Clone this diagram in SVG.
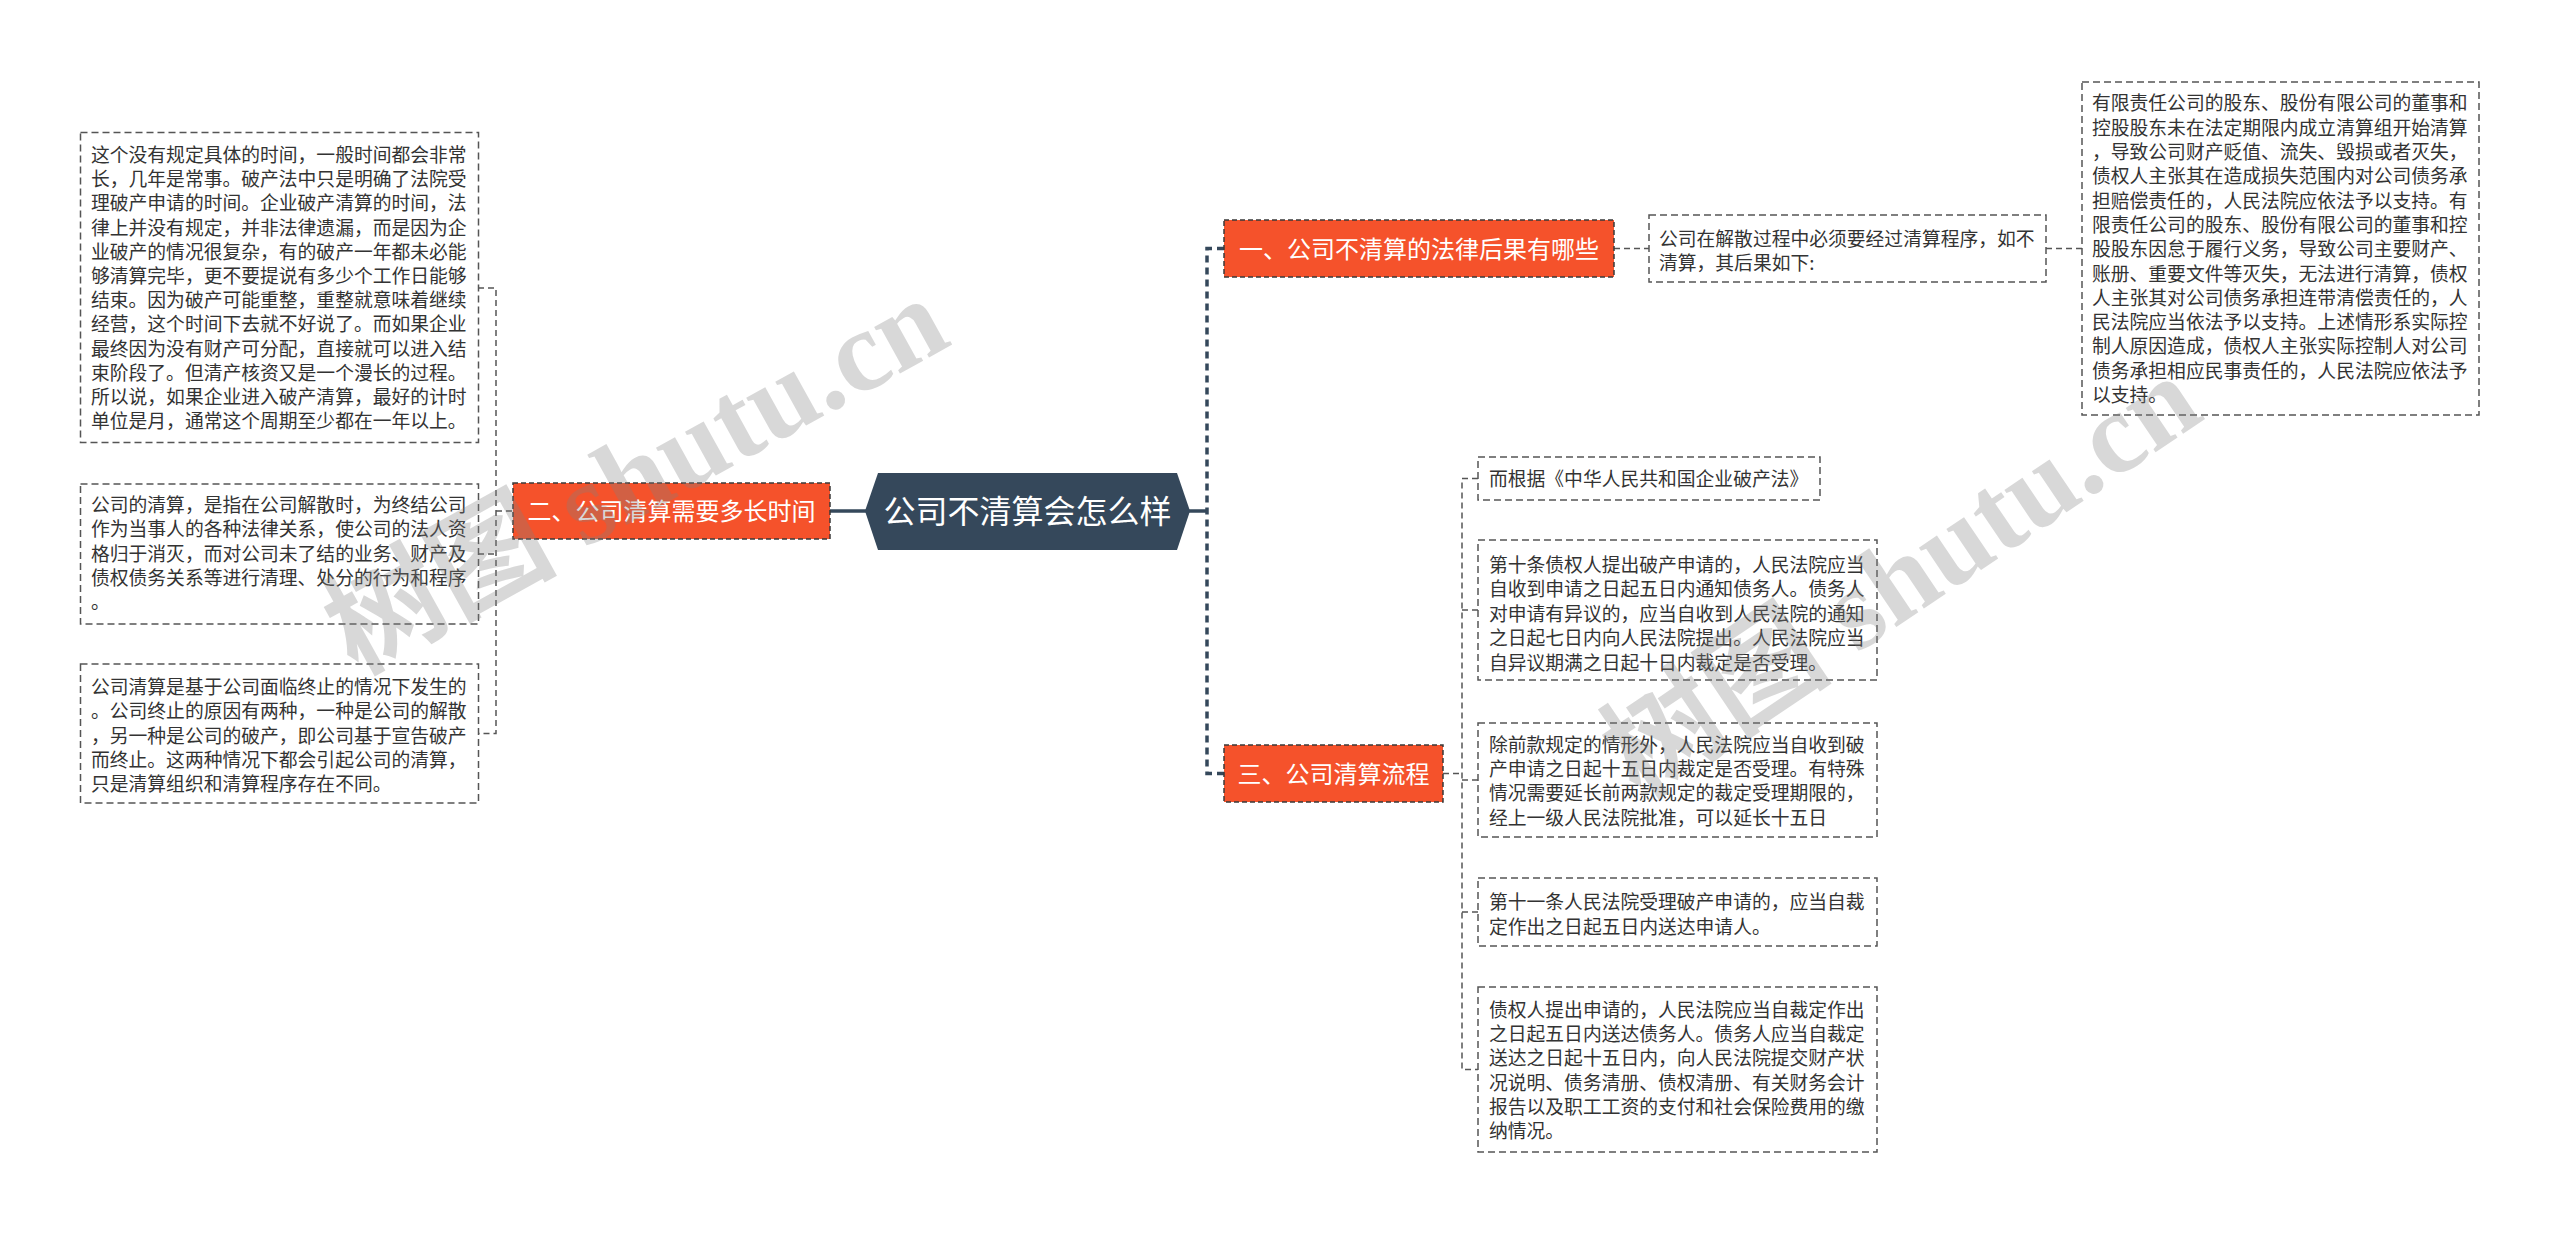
<svg xmlns="http://www.w3.org/2000/svg" width="2560" height="1233" viewBox="0 0 2560 1233">
<style>
.box{fill:#fff;stroke:#555;stroke-width:1.5;stroke-dasharray:7 4}
.org{fill:#F5522B;stroke:#3a3a3a;stroke-width:1.5;stroke-dasharray:5 3}
.t{font-family:"Noto Sans CJK SC","Noto Sans",sans-serif;font-size:18.8px;fill:#333}
.ot{font-family:"Noto Sans CJK SC","Noto Sans",sans-serif;font-size:24px;fill:#fff;text-anchor:middle}
.ct{font-family:"Noto Sans CJK SC","Noto Sans",sans-serif;font-size:32px;fill:#fff;text-anchor:middle}
.thin{fill:none;stroke:#555;stroke-width:1.5;stroke-dasharray:6 4}
.main{fill:none;stroke:#35485B;stroke-width:3.5;stroke-dasharray:7 5}
.solid{fill:none;stroke:#35485B;stroke-width:3.5}
.wm{font-family:"Liberation Serif","Noto Sans CJK SC",serif;font-size:116px;font-weight:bold;fill:#808080;opacity:0.3}
</style>
<rect width="2560" height="1233" fill="#fff"/>
<g id="connectors">
<path class="solid" d="M830,511 H866"/>
<path class="solid" d="M1189,511 H1207"/>
<path class="main" d="M1224,248.5 H1207 V773.5 H1224"/>
<path class="thin" d="M478,288 H496 V733.5 H478 M478,554 H496 M496,511 H513"/>
<path class="thin" d="M1614,248.5 H1649"/>
<path class="thin" d="M2046,248.5 H2082"/>
<path class="thin" d="M1443,773.5 H1462 M1478,478.5 H1462 V1069.5 H1478 M1462,610 H1478 M1462,780 H1478 M1462,912 H1478"/>
</g>
<g id="center">
<polygon points="865,511 878,473 1177,473 1190,511 1177,550 878,550" fill="#35485B"/>
<text class="ct" x="1027.5" y="523">公司不清算会怎么样</text>
</g>
<g id="n1">
<rect class="org" x="1224" y="220" width="390" height="57"/>
<text class="ot" x="1419" y="257.5">一、公司不清算的法律后果有哪些</text>
</g>
<g id="n2">
<rect class="org" x="513" y="483" width="317" height="56"/>
<text class="ot" x="671.5" y="520">二、公司清算需要多长时间</text>
</g>
<g id="n3">
<rect class="org" x="1224" y="745" width="219" height="57"/>
<text class="ot" x="1333.5" y="782.5">三、公司清算流程</text>
</g>
<g id="t1">
<rect class="box" x="1649" y="215" width="397" height="67"/>
<text class="t"><tspan x="1659" y="246">公司在解散过程中必须要经过清算程序，如不</tspan><tspan x="1659" y="270">清算，其后果如下:</tspan></text>
</g>
<g id="r1">
<rect class="box" x="2082" y="82" width="397" height="333"/>
<text class="t"><tspan x="2092" y="110.4">有限责任公司的股东、股份有限公司的董事和</tspan><tspan x="2092" y="134.7">控股股东未在法定期限内成立清算组开始清算</tspan><tspan x="2092" y="159">，导致公司财产贬值、流失、毁损或者灭失，</tspan><tspan x="2092" y="183.3">债权人主张其在造成损失范围内对公司债务承</tspan><tspan x="2092" y="207.6">担赔偿责任的，人民法院应依法予以支持。有</tspan><tspan x="2092" y="231.9">限责任公司的股东、股份有限公司的董事和控</tspan><tspan x="2092" y="256.2">股股东因怠于履行义务，导致公司主要财产、</tspan><tspan x="2092" y="280.5">账册、重要文件等灭失，无法进行清算，债权</tspan><tspan x="2092" y="304.8">人主张其对公司债务承担连带清偿责任的，人</tspan><tspan x="2092" y="329.1">民法院应当依法予以支持。上述情形系实际控</tspan><tspan x="2092" y="353.4">制人原因造成，债权人主张实际控制人对公司</tspan><tspan x="2092" y="377.7">债务承担相应民事责任的，人民法院应依法予</tspan><tspan x="2092" y="402">以支持。</tspan></text>
</g>
<g id="l1">
<rect class="box" x="80.5" y="132.5" width="398" height="310"/>
<text class="t"><tspan x="91" y="162">这个没有规定具体的时间，一般时间都会非常</tspan><tspan x="91" y="186.2">长，几年是常事。破产法中只是明确了法院受</tspan><tspan x="91" y="210.4">理破产申请的时间。企业破产清算的时间，法</tspan><tspan x="91" y="234.6">律上并没有规定，并非法律遗漏，而是因为企</tspan><tspan x="91" y="258.8">业破产的情况很复杂，有的破产一年都未必能</tspan><tspan x="91" y="283">够清算完毕，更不要提说有多少个工作日能够</tspan><tspan x="91" y="307.2">结束。因为破产可能重整，重整就意味着继续</tspan><tspan x="91" y="331.4">经营，这个时间下去就不好说了。而如果企业</tspan><tspan x="91" y="355.6">最终因为没有财产可分配，直接就可以进入结</tspan><tspan x="91" y="379.8">束阶段了。但清产核资又是一个漫长的过程。</tspan><tspan x="91" y="404">所以说，如果企业进入破产清算，最好的计时</tspan><tspan x="91" y="428.2">单位是月，通常这个周期至少都在一年以上。</tspan></text>
</g>
<g id="l2">
<rect class="box" x="80.5" y="484" width="398" height="140"/>
<text class="t"><tspan x="91" y="512">公司的清算，是指在公司解散时，为终结公司</tspan><tspan x="91" y="536.3">作为当事人的各种法律关系，使公司的法人资</tspan><tspan x="91" y="560.6">格归于消灭，而对公司未了结的业务、财产及</tspan><tspan x="91" y="584.9">债权债务关系等进行清理、处分的行为和程序</tspan><tspan x="91" y="609.2">。</tspan></text>
</g>
<g id="l3">
<rect class="box" x="80.5" y="664" width="398" height="139"/>
<text class="t"><tspan x="91" y="694">公司清算是基于公司面临终止的情况下发生的</tspan><tspan x="91" y="718.3">。公司终止的原因有两种，一种是公司的解散</tspan><tspan x="91" y="742.6">，另一种是公司的破产，即公司基于宣告破产</tspan><tspan x="91" y="766.9">而终止。这两种情况下都会引起公司的清算，</tspan><tspan x="91" y="791.2">只是清算组织和清算程序存在不同。</tspan></text>
</g>
<g id="c1">
<rect class="box" x="1478" y="457" width="342" height="43"/>
<text class="t" x="1489" y="486">而根据《中华人民共和国企业破产法》</text>
</g>
<g id="c2">
<rect class="box" x="1478" y="540" width="399" height="140"/>
<text class="t"><tspan x="1489" y="572">第十条债权人提出破产申请的，人民法院应当</tspan><tspan x="1489" y="596.4">自收到申请之日起五日内通知债务人。债务人</tspan><tspan x="1489" y="620.8">对申请有异议的，应当自收到人民法院的通知</tspan><tspan x="1489" y="645.2">之日起七日内向人民法院提出。人民法院应当</tspan><tspan x="1489" y="669.6">自异议期满之日起十日内裁定是否受理。</tspan></text>
</g>
<g id="c3">
<rect class="box" x="1478" y="723" width="399" height="114"/>
<text class="t"><tspan x="1489" y="752">除前款规定的情形外，人民法院应当自收到破</tspan><tspan x="1489" y="776.2">产申请之日起十五日内裁定是否受理。有特殊</tspan><tspan x="1489" y="800.4">情况需要延长前两款规定的裁定受理期限的，</tspan><tspan x="1489" y="824.6">经上一级人民法院批准，可以延长十五日</tspan></text>
</g>
<g id="c4">
<rect class="box" x="1478" y="878" width="399" height="68"/>
<text class="t"><tspan x="1489" y="909">第十一条人民法院受理破产申请的，应当自裁</tspan><tspan x="1489" y="933.5">定作出之日起五日内送达申请人。</tspan></text>
</g>
<g id="c5">
<rect class="box" x="1478" y="987" width="399" height="165"/>
<text class="t"><tspan x="1489" y="1017">债权人提出申请的，人民法院应当自裁定作出</tspan><tspan x="1489" y="1041.2">之日起五日内送达债务人。债务人应当自裁定</tspan><tspan x="1489" y="1065.4">送达之日起十五日内，向人民法院提交财产状</tspan><tspan x="1489" y="1089.6">况说明、债务清册、债权清册、有关财务会计</tspan><tspan x="1489" y="1113.8">报告以及职工工资的支付和社会保险费用的缴</tspan><tspan x="1489" y="1138">纳情况。</tspan></text>
</g>
<g id="watermarks">
<text class="wm" x="356" y="675" transform="rotate(-29 356 675)">树图 shutu.cn</text>
<text class="wm" x="1640" y="800" transform="rotate(-34 1640 800)">树图 shutu.cn</text>
</g>
</svg>
